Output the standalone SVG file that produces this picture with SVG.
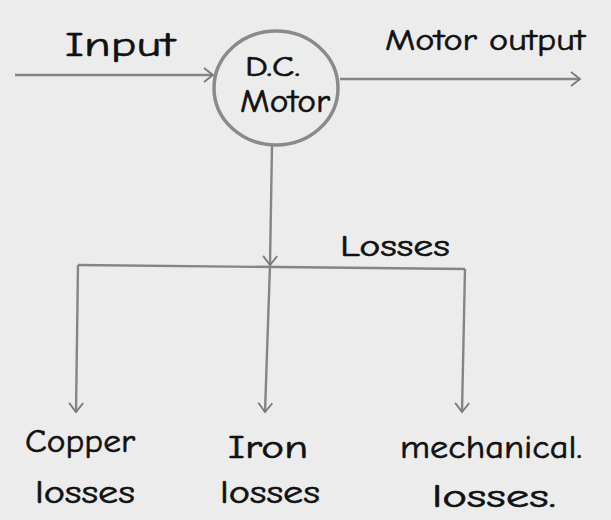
<svg xmlns="http://www.w3.org/2000/svg" width="611" height="520" viewBox="0 0 611 520">
  <defs>
    <marker id="arrow" markerWidth="16" markerHeight="16" refX="11" refY="8" orient="auto" markerUnits="userSpaceOnUse">
      <path d="M2,1 L11,8 L2,15" fill="none" stroke="#7a7a7a" stroke-width="1.8"/>
    </marker>
  </defs>
  <style>
    .line { fill: none; stroke: #858585; stroke-width: 2.4; }
    .hand { font-family: "Comic Neue", "Liberation Sans", sans-serif; fill: #111; stroke: #111; stroke-width: 0.6; }
  </style>
  <rect width="611" height="520" fill="#ececec"/>

  <g id="connectors">
    <path class="line" d="M15,75 L213,75" marker-end="url(#arrow)"/>
    <path class="line" d="M340,79 L580,79" marker-end="url(#arrow)"/>
    <path class="line" d="M272,145 L270,265" marker-end="url(#arrow)"/>
    <path class="line" d="M78,265 L465,269"/>
    <path class="line" d="M78,265 L76,412" marker-end="url(#arrow)"/>
    <path class="line" d="M270,265 L265,412" marker-end="url(#arrow)"/>
    <path class="line" d="M465,269 L462,412" marker-end="url(#arrow)"/>
  </g>

  <g id="input-label"><text class="hand" x="65" y="56" font-size="34" textLength="110" lengthAdjust="spacingAndGlyphs">Input</text></g>
  <g id="output-label"><text class="hand" x="385" y="50" font-size="30" textLength="200" lengthAdjust="spacingAndGlyphs">Motor output</text></g>

  <g id="motor">
    <ellipse cx="276" cy="88" rx="62" ry="57" fill="none" stroke="#8a8a8a" stroke-width="3.5"/>
    <text class="hand" x="245" y="76" font-size="28" textLength="55" lengthAdjust="spacingAndGlyphs">D.C.</text>
    <text class="hand" x="240" y="112" font-size="32" textLength="90" lengthAdjust="spacingAndGlyphs">Motor</text>
  </g>

  <g id="losses-label"><text class="hand" x="340" y="256" font-size="30" textLength="110" lengthAdjust="spacingAndGlyphs">Losses</text></g>

  <g id="copper">
    <text class="hand" x="25" y="452" font-size="32" textLength="110" lengthAdjust="spacingAndGlyphs">Copper</text>
    <text class="hand" x="35" y="503" font-size="32" textLength="100" lengthAdjust="spacingAndGlyphs">losses</text>
  </g>
  <g id="iron">
    <text class="hand" x="228" y="458" font-size="32" textLength="80" lengthAdjust="spacingAndGlyphs">Iron</text>
    <text class="hand" x="220" y="503" font-size="32" textLength="100" lengthAdjust="spacingAndGlyphs">losses</text>
  </g>
  <g id="mechanical">
    <text class="hand" x="400" y="458" font-size="32" textLength="182" lengthAdjust="spacingAndGlyphs">mechanical.</text>
    <text class="hand" x="432" y="507" font-size="32" textLength="124" lengthAdjust="spacingAndGlyphs">losses.</text>
  </g>
</svg>
